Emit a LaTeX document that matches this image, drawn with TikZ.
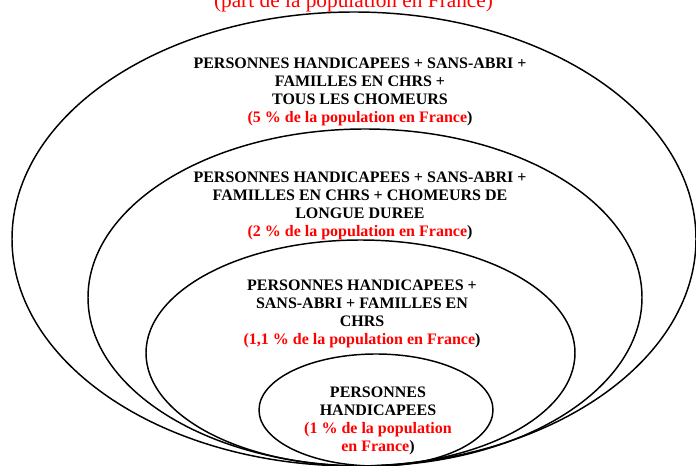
\documentclass[tikz,border=0pt]{standalone}
\usepackage{fontspec}
\setmainfont{Liberation Serif}
\tikzset{
	zone/.style={line width=1.1pt},
	txt/.style={align=center,font=\fontsize{12}{13.6}\selectfont\bfseries},
}
\newcommand{\partpop}[1]{\textcolor{red}{(#1}}

\begin{document}
\begin{tikzpicture}[x=0.75pt,y=-0.75pt]
		\useasboundingbox (0,0) rectangle (696,466);
		% nested groups
		\draw[zone] (354,239) ellipse [x radius=342, y radius=227];
		\draw[zone] (365,297.5) ellipse [x radius=277, y radius=168.5];
		\draw[zone] (360.5,353) ellipse [x radius=214.5, y radius=113];
		\draw[zone] (376,410) ellipse [x radius=117, y radius=56];
		% title (cut at the top)
		\node[anchor=base,text=red,font=\fontsize{16}{18}\selectfont] (titre) at (353.5,8) {(part de la population en France)};
		% labels
		\node[txt] (tous) at (360,92) {PERSONNES HANDICAPEES + SANS-ABRI +\\FAMILLES EN CHRS +\\TOUS LES CHOMEURS\\\partpop{5 \% de la population en France})};
		\node[txt] (longue) at (360,206) {PERSONNES HANDICAPEES + SANS-ABRI +\\FAMILLES EN CHRS + CHOMEURS DE\\LONGUE DUREE\\\partpop{2 \% de la population en France})};
		\node[txt] (chrs) at (362,314) {PERSONNES HANDICAPEES +\\SANS-ABRI + FAMILLES EN\\CHRS\\\partpop{1,1 \% de la population en France})};
		\node[txt] (handi) at (378,421) {PERSONNES\\HANDICAPEES\\\partpop{1 \% de la population}\\\textcolor{red}{en France})};
	\end{tikzpicture}
\end{document}
